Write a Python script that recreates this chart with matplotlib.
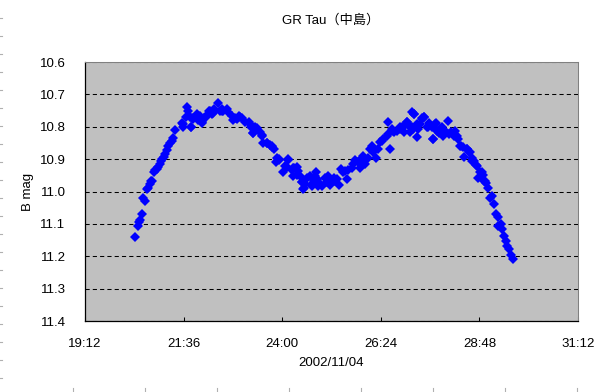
import numpy as np
import matplotlib
matplotlib.use("Agg")
import matplotlib.pyplot as plt
from matplotlib.lines import Line2D
from matplotlib.ticker import FuncFormatter, MultipleLocator

plt.rcParams["font.family"] = ["Liberation Sans", "Noto Sans CJK JP", "DejaVu Sans"]

# 観測時刻 (時, 2002/11/04 0h 起点) と B 等級
hours = [
    20.42, 20.50, 20.51, 20.54, 20.58, 20.62, 20.66, 20.70, 20.74, 20.78,
    20.84, 20.89, 20.95, 20.98, 21.03, 21.08, 21.12, 21.15, 21.19, 21.23,
    21.27, 21.31, 21.35, 21.39, 21.57, 21.59, 21.68, 21.70, 21.65, 21.76,
    21.78, 21.84, 21.89, 21.94, 22.00, 22.06, 22.10, 22.16, 22.22, 22.28,
    22.35, 22.43, 22.49, 22.57, 22.53, 22.65, 22.69, 22.77, 22.81, 22.89,
    22.96, 23.01, 23.09, 23.18, 23.23, 23.30, 23.34, 23.39, 23.46, 23.50,
    23.54, 23.62, 23.70, 23.75, 23.80, 23.87, 23.91, 23.85, 24.01, 24.07,
    24.15, 24.11, 24.23, 24.29, 24.26, 24.35, 24.39, 24.43, 24.48, 24.50,
    24.56, 24.61, 24.68, 24.72, 24.77, 24.82, 24.85, 24.88, 24.84, 24.92,
    24.96, 25.04, 25.08, 25.16, 25.21, 25.25, 25.33, 25.38, 25.43, 25.49,
    25.57, 25.61, 25.69, 25.77, 25.84, 25.89, 25.94, 26.02, 26.08, 26.14,
    26.22, 26.28, 26.33, 26.38, 26.46, 26.54, 26.57, 26.62, 26.67, 26.73,
    26.79, 26.87, 26.91, 26.97, 27.03, 27.09, 27.15, 27.19, 27.20, 27.44,
    27.66, 27.27, 27.21, 27.15, 27.31, 27.35, 27.40, 27.45, 27.53, 27.58,
    27.64, 27.68, 27.72, 27.76, 27.84, 27.88, 27.92, 27.96, 28.03, 28.07,
    28.12, 28.17, 28.21, 28.25, 28.29, 28.35, 28.41, 28.43, 28.49, 28.55,
    28.61, 28.67, 28.73, 28.77, 28.82, 28.88, 28.91, 28.96, 29.00, 29.06,
    29.10, 29.16, 29.20, 29.25, 29.26, 29.32, 29.34, 29.40, 29.44, 29.48,
    29.52, 29.56, 29.61,
    # 追加読み取り分
    20.81, 20.90, 21.05, 21.59, 21.77, 21.80, 21.92, 22.04, 22.14, 22.24,
    22.32, 22.53, 22.85, 22.97, 23.23, 23.30, 23.50, 23.62, 23.75, 23.93,
    24.15, 24.27, 24.35, 24.48, 24.52, 24.72, 24.80, 25.12, 25.29, 25.53,
    25.73, 25.97, 26.18, 26.42, 26.58, 26.70, 26.87, 26.95, 27.03, 27.11,
    27.27, 27.40, 27.56, 27.74, 27.82, 27.92, 28.17, 28.33, 28.49, 28.57,
    28.63, 28.72, 28.86, 28.94,
]
bmag = [
    11.139, 11.106, 11.094, 11.088, 11.070, 11.019, 11.029, 10.993, 10.988, 10.977,
    10.967, 10.941, 10.931, 10.923, 10.915, 10.900, 10.893, 10.884, 10.872, 10.858,
    10.850, 10.843, 10.836, 10.811, 10.788, 10.802, 10.740, 10.750, 10.771, 10.771,
    10.802, 10.776, 10.766, 10.778, 10.768, 10.786, 10.774, 10.764, 10.750, 10.760,
    10.745, 10.726, 10.750, 10.750, 10.745, 10.745, 10.755, 10.766, 10.778, 10.776,
    10.768, 10.774, 10.786, 10.786, 10.794, 10.819, 10.802, 10.805, 10.817, 10.830,
    10.850, 10.850, 10.856, 10.864, 10.869, 10.895, 10.902, 10.910, 10.941, 10.920,
    10.900, 10.923, 10.933, 10.926, 10.951, 10.923, 10.936, 10.951, 10.970, 10.993,
    10.977, 10.957, 10.951, 10.982, 10.967, 10.941, 10.964, 10.982, 10.962, 10.977,
    10.982, 10.957, 10.972, 10.980, 10.967, 10.957, 10.962, 10.980, 10.929, 10.941,
    10.960, 10.933, 10.926, 10.902, 10.910, 10.926, 10.898, 10.915, 10.895, 10.869,
    10.877, 10.895, 10.869, 10.848, 10.838, 10.830, 10.786, 10.869, 10.807, 10.817,
    10.812, 10.807, 10.802, 10.815, 10.784, 10.797, 10.755, 10.807, 10.760, 10.769,
    10.838, 10.831, 10.760, 10.802, 10.807, 10.791, 10.776, 10.771, 10.802, 10.788,
    10.802, 10.838, 10.791, 10.812, 10.807, 10.802, 10.828, 10.812, 10.781, 10.822,
    10.817, 10.828, 10.812, 10.828, 10.838, 10.858, 10.864, 10.892, 10.869, 10.877,
    10.898, 10.905, 10.920, 10.957, 10.941, 10.949, 10.967, 10.974, 10.988, 11.019,
    11.013, 11.039, 11.070, 11.080, 11.106, 11.101, 11.116, 11.137, 11.153, 11.168,
    11.178, 11.197, 11.209,
    10.967, 10.933, 10.905, 10.791, 10.802, 10.773, 10.760, 10.789, 10.771, 10.750,
    10.758, 10.750, 10.773, 10.769, 10.802, 10.820, 10.824, 10.851, 10.858, 10.900,
    10.903, 10.928, 10.948, 10.972, 10.989, 10.977, 10.951, 10.951, 10.967, 10.936,
    10.915, 10.890, 10.858, 10.843, 10.822, 10.812, 10.802, 10.802, 10.786, 10.817,
    10.791, 10.773, 10.802, 10.789, 10.820, 10.812, 10.822, 10.858, 10.869, 10.879,
    10.905, 10.917, 10.941, 10.967,
]

x_ticks = [19.2, 21.6, 24.0, 26.4, 28.8, 31.2]


def hm(v, pos=None):
    h = int(v + 1e-6)
    m = int(round((v - h) * 60))
    return f"{h}:{m:02d}"


fig = plt.figure(figsize=(6.1, 3.92), dpi=100)
ax = fig.add_axes([85 / 610, 1 - 321 / 392, 493 / 610, 259 / 392])
ax.set_facecolor("#C0C0C0")

ax.plot(hours, bmag, linestyle="none", marker="D", markersize=4.6,
        color="#0000FF", markeredgewidth=0)

ax.set_xlim(19.2, 31.2)
ax.set_ylim(11.4, 10.6)
ax.set_xticks(x_ticks)
ax.xaxis.set_major_formatter(FuncFormatter(hm))
ax.yaxis.set_major_locator(MultipleLocator(0.1))
ax.yaxis.set_major_formatter(FuncFormatter(lambda v, p: f"{v:.1f}"))

# 目盛線 (横のみ, 黒破線)
ax.yaxis.grid(True, color="black", linestyle=(0, (4, 3)), linewidth=0.75)
ax.set_axisbelow(True)

for s in ("top", "right"):
    ax.spines[s].set_color("#808080")
    ax.spines[s].set_linewidth(0.75)
for s in ("left", "bottom"):
    ax.spines[s].set_color("black")
    ax.spines[s].set_linewidth(0.9)

ax.tick_params(axis="x", direction="in", length=3, width=0.75, pad=12,
               labelsize=9.5)
ax.tick_params(axis="y", direction="in", length=0, pad=14, labelsize=9.5)

ax.set_xlabel("2002/11/04", fontsize=9.5, labelpad=5)
ax.set_ylabel("B mag", fontsize=9.5, labelpad=4)
fig.text(331 / 610, 1 - 20 / 392, "GR Tau（中島）", ha="center", va="center",
         fontsize=9.5)

# ページ端のルーラー状の点
for yp in range(18, 392, 18):
    fig.add_artist(Line2D([0, 2 / 610], [1 - yp / 392] * 2, color="#B0B0B0",
                          linewidth=0.8, transform=fig.transFigure))
for xp in range(73, 610, 72):
    fig.add_artist(Line2D([xp / 610] * 2, [1 - 388 / 392, 1 - 391 / 392],
                          color="#B0B0B0", linewidth=0.8,
                          transform=fig.transFigure))

fig.savefig("out.png", dpi=100)
